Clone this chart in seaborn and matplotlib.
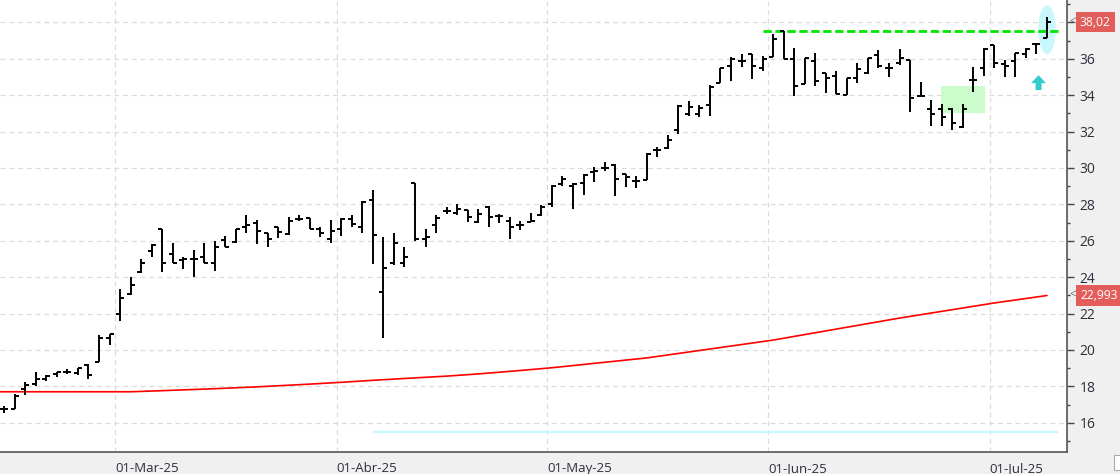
import numpy as np
import pandas as pd
import matplotlib
matplotlib.use('Agg')
import matplotlib.pyplot as plt
import matplotlib.transforms as mtransforms
from matplotlib.patches import Rectangle, Ellipse, FancyArrow
import seaborn as sns

sns.set_style('white')
plt.rcParams['font.family'] = ['Open Sans', 'DejaVu Sans']

# daily OHLC (bar 1 = mid Feb, bar 100 = last session)
opens = [16.74, 16.78, 17.84, 18.12, 18.39, 18.70, 18.80, 18.72, 19.16, 19.35,
         20.63, 21.96, 23.10, 24.29, 25.41, 26.63, 25.26, 24.93, 25.02, 25.08,
         24.77, 26.03, 25.94, 26.73, 26.96, 26.41, 26.73, 26.36, 27.22, 27.27,
         26.67, 26.12, 26.67, 27.18, 26.73, 28.23, 23.21, 24.75, 24.80, 29.20,
         26.12, 26.85, 27.64, 27.55, 27.70, 27.04, 27.86, 27.37, 27.09, 26.85,
         27.04, 27.40, 28.04, 29.12, 28.99, 29.17, 29.77, 29.99, 30.18, 29.66,
         29.26, 29.35, 30.96, 31.09, 32.10, 32.97, 32.95, 33.47, 34.69, 35.62,
         35.90, 36.24, 35.48, 36.08, 37.54, 35.97, 34.60, 35.90, 35.24, 35.06,
         34.01, 34.93, 35.20, 36.21, 35.51, 35.75, 35.93, 33.98, 33.25, 33.25,
         33.25, 32.24, 34.84, 35.51, 36.76, 35.71, 35.88, 36.26, 36.81, 37.12]
highs = [16.90, 17.57, 18.21, 18.76, 18.61, 18.80, 18.94, 19.03, 19.22, 20.83,
         20.90, 23.37, 23.98, 25.02, 25.81, 26.63, 25.85, 25.08, 25.48, 25.90,
         25.99, 26.27, 26.63, 27.44, 27.15, 26.41, 26.73, 27.31, 27.42, 27.27,
         26.73, 27.13, 27.24, 27.42, 28.19, 28.78, 26.23, 26.45, 25.63, 29.20,
         26.67, 27.40, 27.86, 28.01, 27.70, 27.77, 27.92, 27.46, 27.31, 27.09,
         27.51, 27.95, 29.05, 29.54, 29.17, 29.68, 30.03, 30.30, 30.21, 29.66,
         29.54, 30.81, 31.13, 31.82, 33.47, 33.69, 33.45, 34.56, 35.51, 36.12,
         36.24, 36.24, 36.15, 37.34, 37.54, 36.61, 36.03, 36.30, 35.24, 35.31,
         34.93, 35.75, 36.03, 36.48, 35.75, 36.54, 35.93, 34.75, 33.74, 33.50,
         33.32, 33.50, 35.53, 36.57, 36.76, 35.93, 36.30, 36.57, 36.85, 38.31]
lows = [16.56, 16.78, 17.53, 18.03, 18.30, 18.52, 18.67, 18.63, 18.39, 19.35,
        20.26, 21.60, 23.03, 24.20, 25.13, 24.29, 24.75, 24.47, 24.02, 24.80,
        24.35, 25.68, 25.87, 26.45, 25.81, 25.68, 26.14, 26.32, 27.09, 26.63,
        26.18, 25.90, 26.27, 26.73, 26.45, 24.71, 20.68, 24.66, 24.58, 25.99,
        25.66, 26.45, 27.46, 27.40, 27.04, 26.96, 26.78, 26.96, 26.12, 26.60,
        27.04, 27.37, 27.88, 28.99, 27.74, 28.49, 29.21, 29.81, 28.44, 28.95,
        28.88, 29.35, 30.60, 31.05, 31.86, 32.86, 32.79, 32.83, 34.65, 34.80,
        35.53, 34.91, 35.33, 36.08, 35.97, 33.98, 34.60, 34.53, 34.10, 34.05,
        34.01, 34.69, 35.17, 35.51, 35.02, 35.66, 33.10, 33.92, 32.33, 32.33,
        32.06, 32.19, 34.20, 35.08, 35.51, 35.02, 35.02, 36.06, 36.24, 37.12]
closes = [16.74, 17.48, 18.06, 18.39, 18.58, 18.76, 18.80, 19.03, 18.63, 20.63,
          20.87, 22.88, 23.56, 24.80, 25.77, 24.75, 24.75, 25.02, 25.02, 24.80,
          25.68, 25.68, 26.63, 26.85, 26.52, 26.12, 26.49, 27.07, 27.22, 26.67,
          26.41, 26.52, 27.22, 26.91, 28.14, 26.30, 24.49, 25.90, 25.08, 26.09,
          26.18, 27.24, 27.64, 27.77, 27.31, 27.46, 27.33, 27.37, 26.73, 26.85,
          27.09, 27.86, 29.02, 29.39, 29.12, 29.63, 29.85, 29.99, 29.39, 29.48,
          29.30, 30.76, 31.00, 31.55, 33.43, 33.37, 33.28, 34.44, 35.48, 35.97,
          35.90, 35.60, 35.97, 37.07, 35.97, 34.51, 36.03, 34.78, 34.93, 34.05,
          34.93, 35.42, 36.03, 35.60, 35.51, 36.03, 33.83, 33.96, 32.95, 32.79,
          32.46, 33.25, 34.84, 36.54, 35.75, 35.62, 36.30, 36.54, 36.81, 38.02]

# long moving average (red line), read at a few bars
ma_bars = [0, 13, 16, 21, 25, 30, 33, 36, 39, 43, 46, 50, 53, 62, 74, 86, 95, 100]
ma_values = [17.70, 17.70, 17.76, 17.87, 17.97, 18.12, 18.22, 18.33, 18.43, 18.56,
             18.68, 18.87, 19.02, 19.56, 20.54, 21.75, 22.58, 22.99]

month_labels = ['01-Mar-25', '01-Abr-25', '01-May-25', '01-Jun-25', '01-Jul-25']
month_first_bar = [12, 33, 53, 74, 95]
price_ticks = list(range(16, 39, 2))

resistance = 37.5
box_low, box_high = 33.0, 34.5
support_line = 15.47
last_price = 38.02
last_price_label = '38,02'
last_ma = 22.993
last_ma_label = '22,993'

df = pd.DataFrame({'bar': np.arange(1, len(opens) + 1), 'open': opens,
                   'high': highs, 'low': lows, 'close': closes})
ma_df = pd.DataFrame({'bar': ma_bars, 'ma': ma_values})

W, H = 1120, 474
fig = plt.figure(figsize=(W / 100, H / 100), dpi=100, facecolor='#f0f0f0')
ax = fig.add_axes([0, 22 / H, 1067 / W, 452 / H])
ax.set_facecolor('white')
ax.set_xlim(0.6, 101.9)
ax.set_ylim(14.39, 39.23)

# annotations behind the bars
ax.add_patch(Ellipse((100, 37.6), width=1.66, height=2.69, fc='#c9f7fb', ec='none', zorder=1))
ax.add_patch(Rectangle((89.9, box_low), 4.2, box_high - box_low, fc='#ccfccc', ec='none', zorder=1))
ax.hlines(support_line, 36.0, 101.0, color='#c8f8fc', lw=1.6, zorder=1)
ax.hlines(resistance, 73.0, 101.0, color='#00e600', lw=2.0, linestyle=(0, (3.0, 1.3)), zorder=2.5)
ax.add_patch(FancyArrow(99.2, 34.28, 0, 0.82, width=0.57, head_width=1.42, head_length=0.44,
                        length_includes_head=True, color='#33cccc', ec='none', zorder=3))

sns.lineplot(data=ma_df, x='bar', y='ma', color='#ff0000', lw=1.2, ax=ax, zorder=2)

# OHLC bars
tick = 0.38
ax.vlines(df['bar'], df['low'], df['high'], color='black', lw=1.4, zorder=3)
ax.hlines(df['open'], df['bar'] - tick, df['bar'], color='black', lw=1.4, zorder=3)
ax.hlines(df['close'], df['bar'], df['bar'] + tick, color='black', lw=1.4, zorder=3)

ax.set_xlabel('')
ax.set_ylabel('')
ax.set_xticks([b - 0.45 for b in month_first_bar])
ax.set_xticklabels(month_labels, ha='left')
ax.set_yticks(price_ticks)
# the top label sits under the last-price tag
ax.set_yticklabels(['' if abs(t - last_price) < 0.5 else str(t) for t in price_ticks])
ax.set_yticks(range(15, 40, 2), minor=True)
ax.yaxis.tick_right()
ax.grid(True, which='major', color='#dcdcdc', linestyle=(0, (4, 3)), linewidth=0.9)
ax.set_axisbelow(True)

ax.tick_params(axis='y', which='major', direction='out', length=5, width=1, color='#444444',
               pad=4, labelsize=10, labelcolor='#2e2e3e')
ax.tick_params(axis='y', which='minor', direction='out', length=2.5, width=1, color='#444444')
ax.tick_params(axis='x', direction='out', length=6, width=1, color='#444444',
               pad=1, labelsize=9.5, labelcolor='#2e2e3e')
for s in ['left', 'top']:
    ax.spines[s].set_visible(False)
for s in ['right', 'bottom']:
    ax.spines[s].set_color('#555555')
    ax.spines[s].set_linewidth(1.2)

# last value tags on the price scale
trans = mtransforms.blended_transform_factory(ax.transAxes, ax.transData)
for val, lab in [(last_price, last_price_label), (last_ma, last_ma_label)]:
    ax.text(1069 / 1067, val, '<', transform=trans, ha='left', va='center',
            color='#777777', fontsize=8.5, clip_on=False)
    ax.text(1080 / 1067, val, lab, transform=trans, ha='left', va='center',
            color='white', fontsize=8.7, clip_on=False, zorder=5,
            bbox=dict(boxstyle='square,pad=0.3', fc='#e35d5a', ec='none'))

fig.add_artist(Rectangle((1114 / W, 4 / H), 10 / W, 15 / H, transform=fig.transFigure,
                         fc='white', ec='#aaaaaa', lw=0.8))

fig.savefig('out.png', dpi=100, facecolor=fig.get_facecolor())
